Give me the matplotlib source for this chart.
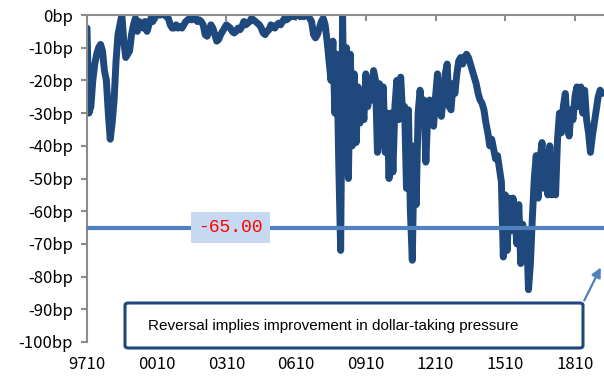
import matplotlib
matplotlib.use("Agg")
import matplotlib.pyplot as plt
import pandas as pd
from matplotlib.patches import FancyBboxPatch

# monthly spread (bp) from Oct 1997 to Dec 2019
spread_bp = [
    -4, -30, -28,                                                   # 1997 Oct-Dec
    -20, -15, -12, -10, -9, -11, -17, -20, -30, -38, -33, -26,      # 1998
    -14, -6, -3, 0, -8, -13, -12, -11, -6, -3, -1, -5,              # 1999
    -2, -3, -4, -2, -5, -3, -1, -2, -0.5, 0, 0, 0,                  # 2000
    0.5, 0, -0.5, -1, -3, -4, -4, -3, -4, -3.5, -4, -3,             # 2001
    -2, -1.5, -1, -1.5, -1, -1, -2, -1.5, -2, -3, -6, -6.5,         # 2002
    -5, -3, -4, -6, -8, -7.5, -6, -5, -4, -3, -3.5, -4,             # 2003
    -5, -5.5, -5, -4, -4.5, -3.5, -2, -3, -2.5, -2, -1, -1.5,       # 2004
    -2, -2.5, -3, -4, -5.5, -6, -5, -4.5, -3, -3.5, -4, -3,         # 2005
    -2.5, -3, -2, -1, -1.5, -1, -0.5, 0, -0.5, 0, 0, -0.5,          # 2006
    0, -0.5, 0, 0, -1, -2, -6, -7, -6, -4, -2, -1,                  # 2007
    -3, -8, -14, -20, -8, -30, -12, -45, -72, 0, -48, -10,          # 2008
    -50, -12, -40, -18, -39, -22, -33, -24, -32, -18, -28, -20,     # 2009
    -26, -17, -20, -42, -21, -40, -22, -42, -30, -50, -30, -48,     # 2010
    -28, -20, -32, -19, -30, -28, -53, -29, -60, -75, -40, -58,     # 2011
    -30, -23, -29, -26, -45, -30, -26, -30, -34, -25, -18, -28,     # 2012
    -31, -25, -18, -15, -28, -29, -21, -24, -18, -14, -13, -15,     # 2013
    -13, -12, -13, -15, -17, -19, -21, -24, -26, -27, -29, -33,     # 2014
    -36, -40, -38, -41, -44, -43, -47, -51, -74, -55, -72, -56,     # 2015
    -66, -56, -62, -70, -58, -76, -64, -72, -66, -84, -76, -62,     # 2016
    -50, -43, -56, -44, -39, -53, -42, -55, -40, -55, -44, -55,     # 2017
    -38, -30, -36, -28, -24, -33, -37, -29, -32, -25, -22, -28,     # 2018
    -22, -30, -23, -32, -36, -42, -37, -33, -29, -25, -23, -24,     # 2019
]
months = pd.date_range("1997-10-01", periods=len(spread_bp), freq="MS")
threshold = -65.0
tick_labels = ["9710", "0010", "0310", "0610", "0910", "1210", "1510", "1810"]
note = "Reversal implies improvement in dollar-taking pressure"

years = months.year + (months.month - 1) / 12.0
tick_years = [1997.75 + 3 * k for k in range(len(tick_labels))]

jp_font = ["Noto Sans CJK JP", "DejaVu Sans"]

fig = plt.figure(figsize=(6.04, 3.78), dpi=100)
ax = fig.add_axes([87 / 604, 1 - 342 / 378, 517 / 604, 327 / 378])

ax.plot(years, spread_bp, color="#1F497D", lw=5.0, solid_joinstyle="round",
        solid_capstyle="round")
ax.axhline(threshold, color="#4F81BD", lw=3.0, zorder=3)
ax.text(2003.94, threshold, f"{threshold:.2f}", color="#FF0000", fontsize=13,
        family="Liberation Mono", ha="center", va="center", zorder=4,
        bbox=dict(boxstyle="square,pad=0.4", fc="#C6D9F1", ec="none"))

ax.set_xlim(1997.75, 2020.0)
ax.set_ylim(-100, 0)
ax.set_yticks(range(-100, 1, 10))
ax.set_yticklabels([f"{v}bp" for v in range(-100, 1, 10)], family=jp_font, fontsize=12)
ax.set_xticks(tick_years)
ax.set_xticklabels(tick_labels, family=jp_font, fontsize=12)

for side in ["right", "bottom"]:
    ax.spines[side].set_visible(False)
for side in ["left", "top"]:
    ax.spines[side].set_color("#8C8C8C")
    ax.spines[side].set_linewidth(1.5)
ax.tick_params(axis="y", direction="out", length=4.5, width=1.5, color="#8C8C8C", pad=5.5)
ax.tick_params(axis="x", top=True, bottom=False, labeltop=False, labelbottom=True,
               direction="in", length=4, width=1.5, color="#8C8C8C", pad=10)

# note box overlapping the bottom of the plot, with an arrow to the latest value
box = FancyBboxPatch((125 / 604, 1 - 348 / 378), 458 / 604, 45 / 378,
                     boxstyle="round,pad=0,rounding_size=0.006",
                     transform=fig.transFigure, fc="white", ec="#1F497D", lw=2.2,
                     zorder=5)
fig.patches.append(box)
fig.text(148 / 604, 1 - 326 / 378, note, fontsize=11, va="center", ha="left",
         family="Liberation Sans", zorder=6)
ax.annotate("", xy=(602 / 604, 1 - 265 / 378), xycoords="figure fraction",
            xytext=(583 / 604, 1 - 303 / 378), textcoords="figure fraction",
            arrowprops=dict(arrowstyle="-|>", color="#4F81BD", lw=1.6,
                            mutation_scale=14), annotation_clip=False)

fig.savefig("out.png", dpi=100)
